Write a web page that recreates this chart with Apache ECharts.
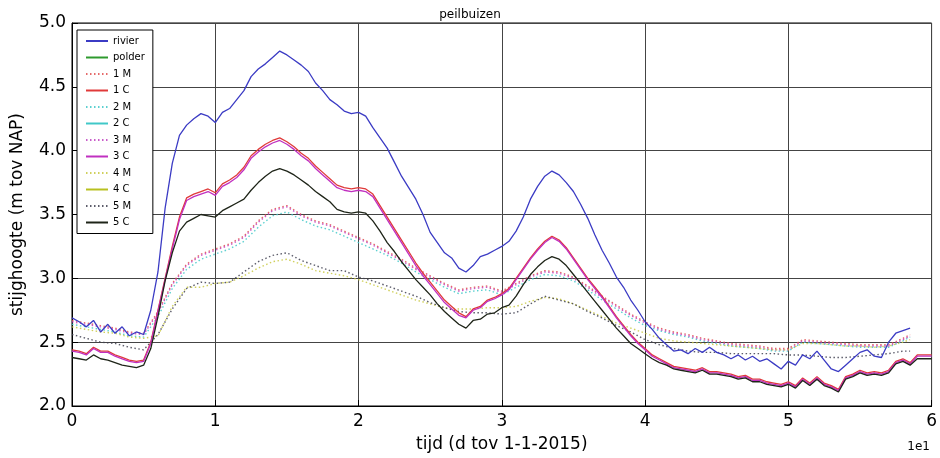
<!DOCTYPE html>
<html>
<head>
<meta charset="utf-8">
<script src="https://cdn.jsdelivr.net/npm/echarts@6/dist/echarts.min.js"></script>
<style>html,body{margin:0;padding:0;background:#fff}#c{width:940px;height:458px}</style>
</head>
<body>
<div id="c"></div>
<script>
// x in units of 10 days (axis shows 0..6 with 1e1 offset)
const xTicks = [0, 1, 2, 3, 4, 5, 6];
const yTicks = [2.0, 2.5, 3.0, 3.5, 4.0, 4.5, 5.0];

const xSolid = [0.00,0.05,0.10,0.15,0.20,0.25,0.30,0.35,0.40,0.45,0.50,0.55,0.60,0.65,0.70,0.75,0.80,0.85,0.90,0.95,
1.00,1.05,1.10,1.15,1.20,1.25,1.30,1.35,1.40,1.45,1.50,1.55,1.60,1.65,1.70,1.75,1.80,1.85,1.90,1.95,
2.00,2.05,2.10,2.15,2.20,2.25,2.30,2.35,2.40,2.45,2.50,2.55,2.60,2.65,2.70,2.75,2.80,2.85,2.90,2.95,
3.00,3.05,3.10,3.15,3.20,3.25,3.30,3.35,3.40,3.45,3.50,3.55,3.60,3.65,3.70,3.75,3.80,3.85,3.90,3.95,
4.00,4.05,4.10,4.15,4.20,4.25,4.30,4.35,4.40,4.45,4.50,4.55,4.60,4.65,4.70,4.75,4.80,4.85,4.90,4.95,
5.00,5.05,5.10,5.15,5.20,5.25,5.30,5.35,5.40,5.45,5.50,5.55,5.60,5.65,5.70,5.75,5.80,5.85,5.90,5.95,6.00];

const rivier = [2.69,2.66,2.62,2.67,2.58,2.64,2.57,2.62,2.55,2.58,2.56,2.75,3.05,3.55,3.90,4.12,4.20,4.25,4.29,4.27,
4.22,4.30,4.33,4.40,4.47,4.58,4.64,4.68,4.73,4.78,4.75,4.71,4.67,4.62,4.53,4.47,4.40,4.36,4.31,4.29,
4.30,4.27,4.18,4.10,4.02,3.91,3.80,3.71,3.62,3.50,3.36,3.28,3.20,3.16,3.08,3.05,3.10,3.17,3.19,3.22,
3.25,3.29,3.37,3.48,3.62,3.72,3.80,3.84,3.81,3.75,3.68,3.58,3.47,3.34,3.22,3.12,3.01,2.93,2.83,2.75,
2.66,2.60,2.53,2.48,2.43,2.44,2.41,2.45,2.42,2.46,2.42,2.40,2.37,2.40,2.36,2.39,2.35,2.37,2.33,2.29,
2.35,2.32,2.40,2.37,2.43,2.36,2.29,2.27,2.32,2.37,2.42,2.44,2.39,2.38,2.50,2.57,2.59,2.61,null,null,null];

const c1 = [2.44,2.43,2.41,2.46,2.43,2.43,2.40,2.38,2.36,2.35,2.36,2.50,2.75,3.00,3.25,3.48,3.63,3.66,3.68,3.70,
3.67,3.74,3.77,3.81,3.87,3.96,4.01,4.05,4.08,4.10,4.07,4.03,3.98,3.94,3.88,3.83,3.78,3.73,3.71,3.70,
3.71,3.70,3.66,3.57,3.48,3.39,3.30,3.21,3.12,3.04,2.97,2.90,2.83,2.78,2.73,2.70,2.76,2.78,2.83,2.85,
2.88,2.92,3.00,3.08,3.16,3.23,3.29,3.33,3.30,3.24,3.16,3.08,3.00,2.93,2.86,2.78,2.70,2.63,2.56,2.50,
2.45,2.40,2.37,2.34,2.31,2.30,2.29,2.28,2.30,2.27,2.27,2.26,2.25,2.23,2.24,2.21,2.21,2.19,2.18,2.17,
2.19,2.16,2.22,2.18,2.23,2.18,2.16,2.13,2.23,2.25,2.28,2.26,2.27,2.26,2.28,2.35,2.37,2.34,2.40,2.40,2.40];

const c3 = [2.43,2.42,2.40,2.45,2.42,2.42,2.39,2.37,2.35,2.34,2.35,2.49,2.74,2.99,3.23,3.46,3.61,3.64,3.66,3.68,
3.65,3.72,3.75,3.79,3.85,3.94,3.99,4.03,4.06,4.08,4.05,4.01,3.96,3.92,3.86,3.81,3.76,3.71,3.69,3.68,
3.69,3.68,3.64,3.55,3.46,3.37,3.28,3.19,3.10,3.02,2.95,2.88,2.81,2.76,2.71,2.69,2.75,2.77,2.82,2.84,
2.87,2.91,2.99,3.07,3.15,3.22,3.28,3.32,3.29,3.23,3.15,3.07,2.99,2.92,2.85,2.77,2.69,2.62,2.55,2.49,
2.44,2.39,2.36,2.33,2.30,2.29,2.28,2.27,2.29,2.26,2.26,2.25,2.24,2.22,2.23,2.20,2.20,2.18,2.17,2.16,
2.18,2.15,2.21,2.17,2.22,2.17,2.15,2.12,2.22,2.24,2.27,2.25,2.26,2.25,2.27,2.34,2.36,2.33,2.39,2.39,2.39];

const c5 = [2.38,2.37,2.36,2.40,2.37,2.36,2.34,2.32,2.31,2.30,2.32,2.45,2.70,2.98,3.20,3.37,3.44,3.47,3.50,3.49,
3.48,3.53,3.56,3.59,3.62,3.69,3.75,3.80,3.84,3.86,3.84,3.81,3.77,3.73,3.68,3.64,3.60,3.54,3.52,3.51,
3.52,3.51,3.45,3.37,3.28,3.21,3.13,3.06,2.99,2.93,2.87,2.80,2.74,2.69,2.64,2.61,2.67,2.68,2.72,2.73,
2.77,2.79,2.86,2.95,3.03,3.09,3.14,3.17,3.15,3.10,3.03,2.96,2.89,2.82,2.75,2.68,2.61,2.55,2.49,2.45,
2.41,2.37,2.34,2.32,2.29,2.28,2.27,2.26,2.28,2.25,2.25,2.24,2.23,2.21,2.22,2.19,2.19,2.17,2.16,2.15,
2.17,2.14,2.20,2.16,2.21,2.16,2.14,2.11,2.21,2.23,2.26,2.24,2.25,2.24,2.26,2.33,2.35,2.32,2.37,2.37,2.37];

const xDot = [0.0,0.1,0.2,0.3,0.4,0.5,0.6,0.7,0.8,0.9,1.0,1.1,1.2,1.3,1.4,1.5,1.6,1.7,1.8,1.9,
2.0,2.1,2.2,2.3,2.4,2.5,2.6,2.7,2.8,2.9,3.0,3.1,3.2,3.3,3.4,3.5,3.6,3.7,3.8,3.9,
4.0,4.1,4.2,4.3,4.4,4.5,4.6,4.7,4.8,4.9,5.0,5.1,5.2,5.3,5.4,5.5,5.6,5.7,5.8,5.85];

const m1 = [2.67,2.65,2.63,2.61,2.58,2.57,2.74,2.96,3.11,3.19,3.23,3.27,3.33,3.45,3.54,3.57,3.50,3.45,3.42,3.37,
3.32,3.27,3.21,3.15,3.08,3.02,2.96,2.91,2.93,2.94,2.90,2.96,3.02,3.06,3.05,3.01,2.94,2.86,2.79,2.72,
2.66,2.61,2.58,2.56,2.53,2.51,2.49,2.48,2.47,2.45,2.45,2.52,2.51,2.50,2.49,2.48,2.48,2.48,2.53,2.56];
const m2 = [2.64,2.62,2.60,2.58,2.55,2.54,2.70,2.92,3.07,3.15,3.19,3.23,3.29,3.40,3.49,3.52,3.46,3.41,3.38,3.33,
3.28,3.23,3.18,3.12,3.05,2.99,2.93,2.88,2.90,2.91,2.87,2.93,2.99,3.03,3.02,2.98,2.91,2.83,2.76,2.69,
2.63,2.59,2.56,2.54,2.51,2.49,2.47,2.46,2.45,2.43,2.43,2.50,2.49,2.48,2.47,2.46,2.46,2.46,2.51,2.54];
const m3 = [2.66,2.64,2.62,2.60,2.57,2.56,2.73,2.95,3.10,3.18,3.22,3.26,3.32,3.44,3.53,3.56,3.49,3.44,3.41,3.36,
3.31,3.26,3.20,3.14,3.07,3.01,2.95,2.90,2.92,2.93,2.89,2.95,3.01,3.05,3.04,3.00,2.93,2.85,2.78,2.71,
2.65,2.60,2.57,2.55,2.52,2.50,2.48,2.47,2.46,2.44,2.44,2.51,2.50,2.49,2.48,2.47,2.47,2.47,2.52,2.55];
const m4 = [2.62,2.60,2.58,2.57,2.54,2.53,2.55,2.78,2.93,2.93,2.96,2.97,3.02,3.08,3.13,3.15,3.11,3.06,3.04,3.02,
2.99,2.95,2.91,2.87,2.83,2.80,2.77,2.76,2.76,2.77,2.77,2.78,2.82,2.85,2.84,2.80,2.75,2.70,2.65,2.61,
2.57,2.53,2.51,2.50,2.49,2.48,2.47,2.46,2.45,2.44,2.44,2.49,2.49,2.48,2.47,2.47,2.46,2.47,2.50,2.52];
const m5 = [2.56,2.53,2.50,2.49,2.46,2.44,2.56,2.76,2.92,2.97,2.96,2.97,3.05,3.13,3.18,3.20,3.14,3.10,3.06,3.06,
3.01,2.98,2.94,2.90,2.86,2.81,2.77,2.74,2.73,2.73,2.72,2.73,2.80,2.86,2.83,2.80,2.74,2.69,2.63,2.58,
2.52,2.48,2.45,2.43,2.42,2.42,2.41,2.41,2.41,2.41,2.40,2.40,2.39,2.38,2.38,2.39,2.40,2.41,2.43,2.43];

function pairs(xs, ys){ return xs.map((x,i)=>[x, ys[i]]); }

const FONT = 'DejaVu Sans';
const dotType = [1.5, 2.5];
function line(name, color, data, dotted, z){
  return {
    name: name, type: 'line', data: data, showSymbol: false, symbol: 'none',
    z: z, animation: false, connectNulls: false,
    lineStyle: { color: color, width: dotted ? 1.4 : 1.3, type: dotted ? dotType : 'solid', opacity: dotted ? 0.85 : 1 },
    itemStyle: { color: color }
  };
}

const chart = echarts.init(document.getElementById('c'), null, {renderer: 'canvas'});
chart.setOption({
  animation: false,
  backgroundColor: '#fff',
  title: { text: 'peilbuizen', left: 'center', top: 4, textStyle: { fontFamily: FONT, fontSize: 12, fontWeight: 'normal', color: '#000' } },
  grid: { left: 72, right: 7, top: 23, bottom: 51, show: true, borderColor: '#000', borderWidth: 1, backgroundColor: 'transparent' },
  xAxis: {
    type: 'value', min: 0, max: 6, interval: 1,
    name: 'tijd (d tov 1-1-2015)', nameLocation: 'middle', nameGap: 30,
    nameTextStyle: { fontFamily: FONT, fontSize: 17, color: '#000' },
    axisLine: { show: true, lineStyle: { color: '#000', width: 1 } },
    axisTick: { show: true, inside: true, length: 6, lineStyle: { color: '#000' } },
    axisLabel: { fontFamily: FONT, fontSize: 17, color: '#000', margin: 7, formatter: v => String(v) },
    splitLine: { show: true, lineStyle: { color: '#444', width: 1 } }
  },
  yAxis: {
    type: 'value', min: 2.0, max: 5.0, interval: 0.5,
    name: 'stijghoogte (m tov NAP)', nameLocation: 'middle', nameGap: 46,
    nameTextStyle: { fontFamily: FONT, fontSize: 17, color: '#000' },
    axisLine: { show: true, lineStyle: { color: '#000', width: 1 } },
    axisTick: { show: true, inside: true, length: 6, lineStyle: { color: '#000' } },
    axisLabel: { fontFamily: FONT, fontSize: 17, color: '#000', margin: 6, formatter: v => v.toFixed(1) },
    splitLine: { show: true, lineStyle: { color: '#444', width: 1 } }
  },
  legend: {
    orient: 'vertical', left: 77, top: 30,
    backgroundColor: '#fff', borderColor: '#000', borderWidth: 1, borderRadius: 0,
    padding: [6, 8, 6, 8], itemGap: 6.5, itemWidth: 22, itemHeight: 10,
    itemStyle: { opacity: 0, borderWidth: 0 },
    textStyle: { fontFamily: FONT, fontSize: 10, color: '#000' },
    data: ['rivier','polder','1 M','1 C','2 M','2 C','3 M','3 C','4 M','4 C','5 M','5 C']
  },
  graphic: [{ type: 'text', right: 10, top: 441, style: { text: '1e1', fontFamily: FONT, fontSize: 12, fill: '#000' } }],
  series: [
    line('rivier', '#3b3bc4', pairs(xSolid, rivier), false, 3),
    line('polder', '#2e9a2e', [], false, 3),
    line('1 M', '#e05050', pairs(xDot, m1), true, 2),
    line('1 C', '#e03a3a', pairs(xSolid, c1), false, 3),
    line('2 M', '#40c8c8', pairs(xDot, m2), true, 2),
    line('2 C', '#40c8c8', [], false, 3),
    line('3 M', '#c040c0', pairs(xDot, m3), true, 2),
    line('3 C', '#c030c0', pairs(xSolid, c3), false, 3),
    line('4 M', '#c8c840', pairs(xDot, m4), true, 2),
    line('4 C', '#b8c020', [], false, 3),
    line('5 M', '#404050', pairs(xDot, m5), true, 2),
    line('5 C', '#1e2418', pairs(xSolid, c5), false, 3)
  ]
});
</script>
</body>
</html>
